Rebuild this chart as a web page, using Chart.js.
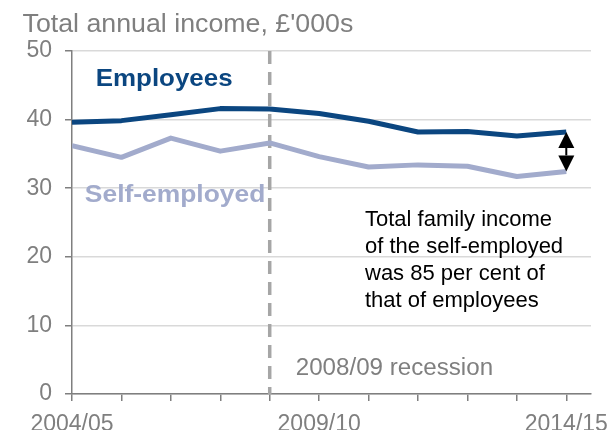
<!DOCTYPE html>
<html>
<head>
<meta charset="utf-8">
<script src="https://cdn.jsdelivr.net/npm/chart.js@4.4.1/dist/chart.umd.min.js"></script>
<style>
  html, body { margin: 0; padding: 0; background: #fff; }
  #wrap { width: 610px; height: 430px; }
</style>
</head>
<body>
<div id="wrap"><canvas id="chart" width="610" height="430"></canvas></div>
<script>
const years = ['2004/05', '2005/06', '2006/07', '2007/08', '2008/09', '2009/10',
  '2010/11', '2011/12', '2012/13', '2013/14', '2014/15'];
const shownYears = ['2004/05', '2009/10', '2014/15'];
const employees = [39.6, 39.85, 40.7, 41.6, 41.55, 40.9, 39.75, 38.2, 38.25, 37.6, 38.2];
const selfEmployed = [36.2, 34.5, 37.3, 35.4, 36.6, 34.6, 33.1, 33.4, 33.2, 31.7, 32.45];
const yTicks = [0, 10, 20, 30, 40, 50];
const recessionYear = '2008/09';
const noteLines = ['Total family income', 'of the self-employed', 'was 85 per cent of', 'that of employees'];

const GREY = '#7f7f7f';
const DARK = '#0b4680';
const LIGHT = '#a2abcc';
const FONT = '"Liberation Sans", Arial, sans-serif';

function stretchText(ctx, text, x, y, font, color, sx) {
  ctx.save();
  ctx.font = font;
  ctx.fillStyle = color;
  ctx.textAlign = 'left';
  ctx.textBaseline = 'alphabetic';
  ctx.translate(x, y);
  ctx.scale(sx, 1);
  ctx.fillText(text, 0, 0);
  ctx.restore();
}

const extras = {
  id: 'extras',
  beforeDatasetsDraw(chart) {
    const { ctx, chartArea, scales } = chart;
    // recession marker
    const rx = scales.x.getPixelForValue(years.indexOf(recessionYear));
    ctx.save();
    ctx.strokeStyle = '#a6a6a6';
    ctx.lineWidth = 3.5;
    ctx.setLineDash([13, 8]);
    ctx.beginPath();
    ctx.moveTo(rx, chartArea.top);
    ctx.lineTo(rx, chartArea.bottom);
    ctx.stroke();
    ctx.restore();
  },
  afterDatasetsDraw(chart) {
    const { ctx, scales } = chart;
    const x = scales.x, y = scales.y;

    stretchText(ctx, 'Total annual income, £\'000s', 22.5, 31.5, '25px ' + FONT, GREY, 1.07);
    stretchText(ctx, 'Employees', x.getPixelForValue(0.48), y.getPixelForValue(44.9),
      'bold 24px ' + FONT, DARK, 1.08);
    stretchText(ctx, 'Self-employed', x.getPixelForValue(0.26), y.getPixelForValue(28.05),
      'bold 24px ' + FONT, LIGHT, 1.1);
    stretchText(ctx, '2008/09 recession', x.getPixelForValue(years.indexOf(recessionYear)) + 26,
      y.getPixelForValue(2.8), '23px ' + FONT, GREY, 1.05);

    noteLines.forEach((line, i) => {
      stretchText(ctx, line, 365, 226 + i * 27, '22px ' + FONT, '#000', 1.0);
    });

    // double arrow between the last points
    const last = years.length - 1;
    const ax = x.getPixelForValue(last);
    const top = y.getPixelForValue(employees[last]);
    const bot = y.getPixelForValue(selfEmployed[last]);
    const hw = 8, hh = 16;
    ctx.save();
    ctx.fillStyle = '#000';
    ctx.strokeStyle = '#000';
    ctx.lineWidth = 2;
    ctx.beginPath();
    ctx.moveTo(ax, top + hh);
    ctx.lineTo(ax, bot - hh);
    ctx.stroke();
    ctx.beginPath();
    ctx.moveTo(ax, top);
    ctx.lineTo(ax - hw, top + hh);
    ctx.lineTo(ax + hw, top + hh);
    ctx.closePath();
    ctx.fill();
    ctx.beginPath();
    ctx.moveTo(ax, bot);
    ctx.lineTo(ax - hw, bot - hh);
    ctx.lineTo(ax + hw, bot - hh);
    ctx.closePath();
    ctx.fill();
    ctx.restore();
  }
};

const ctx = document.getElementById('chart').getContext('2d');
new Chart(ctx, {
  type: 'line',
  data: {
    datasets: [
      {
        label: 'Employees',
        data: employees.map((v, i) => ({ x: i, y: v })),
        borderColor: DARK,
        borderWidth: 5,
        pointRadius: 0,
        borderJoinStyle: 'round',
        tension: 0
      },
      {
        label: 'Self-employed',
        data: selfEmployed.map((v, i) => ({ x: i, y: v })),
        borderColor: LIGHT,
        borderWidth: 5,
        pointRadius: 0,
        borderJoinStyle: 'round',
        tension: 0
      }
    ]
  },
  options: {
    responsive: false,
    animation: false,
    layout: { padding: { top: 51, right: 19, left: 0, bottom: 0 } },
    plugins: {
      legend: { display: false },
      tooltip: { enabled: false }
    },
    scales: {
      x: {
        type: 'linear',
        min: 0,
        max: 10.5,
        afterBuildTicks: axis => { axis.ticks = years.map((y, i) => ({ value: i })); },
        afterFit: s => { s.height = 36; s.paddingLeft = 0; s.paddingRight = 0; },
        ticks: {
          autoSkip: false,
          maxRotation: 0,
          padding: 10,
          color: GREY,
          font: { family: FONT, size: 23 },
          callback: v => shownYears.includes(years[v]) ? years[v] : ''
        },
        grid: { drawOnChartArea: false, tickLength: 7, color: GREY, lineWidth: 1.5 },
        border: { color: GREY, width: 1.5 }
      },
      y: {
        min: 0,
        max: 50,
        afterBuildTicks: axis => { axis.ticks = yTicks.map(v => ({ value: v })); },
        afterFit: s => { s.width = 72; },
        ticks: {
          padding: 13,
          color: GREY,
          font: { family: FONT, size: 23 }
        },
        grid: { color: '#d9d9d9', tickColor: GREY, tickLength: 7, lineWidth: 1.5 },
        border: { color: GREY, width: 1.5 }
      }
    }
  },
  plugins: [extras]
});
</script>
</body>
</html>
